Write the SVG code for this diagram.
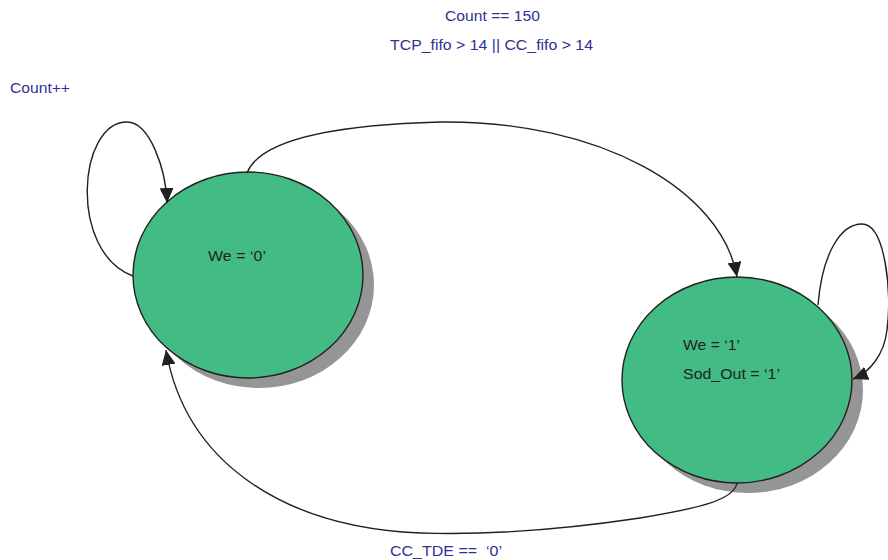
<svg xmlns="http://www.w3.org/2000/svg" width="888" height="560" viewBox="0 0 888 560">
  <style>
    .shadow { fill: #959595; }
    .state { fill: #42bc84; stroke: #231f20; stroke-width: 1.4; }
    .edge { fill: none; stroke: #231f20; stroke-width: 1.4; }
    .inner { font-family: "Liberation Sans", Arial, sans-serif; font-size: 14px; fill: #231f20; }
    .cond { font-family: "Liberation Sans", Arial, sans-serif; font-size: 14px; fill: #2e3192; white-space: pre; }
  </style>
  <defs>
    <marker id="arrow" markerUnits="userSpaceOnUse" markerWidth="16" markerHeight="14" refX="15" refY="7" orient="auto">
      <path d="M0,0 L15,7 L0,14 Z" fill="#231f20"/>
    </marker>
  </defs>
  <rect width="888" height="560" fill="#ffffff"/>

  <!-- state: idle (We = '0') -->
  <g id="state-idle">
    <ellipse class="shadow" cx="259" cy="285" rx="115" ry="103"/>
    <ellipse class="state" cx="248" cy="275" rx="115" ry="103"/>
    <text class="inner" x="208" y="261" textLength="58" lengthAdjust="spacingAndGlyphs">We = ‘0’</text>
  </g>

  <!-- state: write (We = '1', Sod_Out = '1') -->
  <g id="state-write">
    <ellipse class="shadow" cx="748" cy="390" rx="115" ry="103"/>
    <ellipse class="state" cx="737" cy="380" rx="115" ry="103"/>
    <text class="inner" x="683" y="350" textLength="57" lengthAdjust="spacingAndGlyphs">We = ‘1’</text>
    <text class="inner" x="683" y="379" textLength="97" lengthAdjust="spacingAndGlyphs">Sod_Out = ‘1’</text>
  </g>

  <!-- transitions -->
  <g id="connectors">
    <path class="edge" marker-end="url(#arrow)" d="M133,276 C 68,252 78,122 127,122 C 150,122 166,170 167,203"/>
    <path class="edge" marker-end="url(#arrow)" d="M247,173 C 260,140 330,125 440,122 C 600,120 722,190 737,277"/>
    <path class="edge" marker-end="url(#arrow)" d="M818,305 C 822,255 840,224 862,224 C 885,224 892,290 887,330 C 884,355 870,372 853,379"/>
    <path class="edge" marker-end="url(#arrow)" d="M737,483 C 734,500 700,508 640,518 C 560,530 480,535 420,533 C 280,527 185,460 166,350"/>
  </g>

  <!-- transition labels -->
  <g id="labels">
    <text class="cond" x="10" y="93" textLength="60" lengthAdjust="spacingAndGlyphs">Count++</text>
    <text class="cond" x="445" y="21" textLength="95" lengthAdjust="spacingAndGlyphs">Count == 150</text>
    <text class="cond" x="390" y="50" textLength="203" lengthAdjust="spacingAndGlyphs">TCP_fifo &gt; 14 || CC_fifo &gt; 14</text>
    <text class="cond" x="390" y="556" textLength="112" lengthAdjust="spacingAndGlyphs" xml:space="preserve">CC_TDE ==  ‘0’</text>
  </g>
</svg>
